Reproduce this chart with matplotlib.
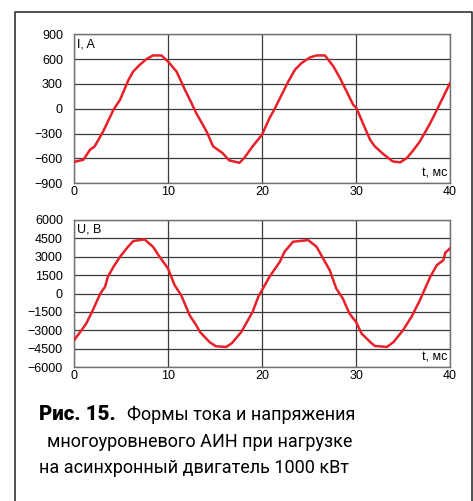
import numpy as np
import matplotlib
matplotlib.use('Agg')
import matplotlib.pyplot as plt
from matplotlib.lines import Line2D

matplotlib.rc('font', family=['Liberation Sans', 'DejaVu Sans'], size=9)

# current, A
t_i = [0, 1.0, 1.7, 2.2, 3.1, 4.2, 4.9, 5.8, 6.3, 7.0, 7.7, 8.4, 9.3, 10.0, 10.9,
       11.4, 11.8, 12.5, 13.0, 14.1, 14.8, 15.8, 16.5, 17.6, 18.1, 19.0, 20.0,
       20.8, 21.3, 22.0, 22.8, 23.5, 24.2, 25.1, 25.8, 26.7, 27.6, 28.3, 29.0,
       29.7, 30.05, 30.8, 31.5, 32.0, 32.9, 33.9, 34.7, 35.4, 36.0, 36.8, 37.9,
       38.7, 40.0]
i_a = [-645, -618, -497, -456, -275, -12, 109, 351, 452, 533, 601, 646, 646, 573,
       452, 331, 230, 69, -52, -275, -456, -537, -625, -655, -598, -456, -315,
       -113, -12, 149, 331, 472, 553, 622, 646, 646, 513, 371, 210, 48, 8, -194,
       -376, -456, -549, -638, -650, -598, -517, -396, -174, 8, 311]

# voltage, V
t_u = [0, 0.8, 1.3, 2.0, 2.8, 3.3, 3.6, 4.2, 4.9, 5.6, 6.3, 7.0, 7.5, 8.4, 9.1,
       10.0, 10.7, 11.4, 12.3, 13.0, 13.4, 14.4, 15.1, 16.2, 16.8, 17.8, 18.2,
       19.0, 19.6, 20.0, 20.8, 21.9, 22.4, 23.3, 24.0, 24.9, 25.8, 26.5, 27.2,
       27.9, 28.6, 29.3, 30.0, 30.6, 31.5, 32.0, 33.3, 34.0, 35.0, 35.9, 36.8,
       37.9, 38.6, 39.3, 39.5, 40.0]
u_v = [-3818, -3000, -2454, -1364, 0, 545, 1364, 2182, 3000, 3682, 4282, 4364,
       4418, 3818, 3000, 2045, 682, -136, -1773, -2591, -3136, -3955, -4309,
       -4364, -4050, -3136, -2591, -1500, -273, 273, 1364, 2591, 3409, 4227,
       4282, 4364, 3818, 2864, 1909, 409, -409, -1636, -2318, -3273, -3955,
       -4282, -4364, -3955, -3000, -1909, -545, 1364, 2318, 2727, 3327, 3682]

i_ticks = [-900, -600, -300, 0, 300, 600, 900]
u_ticks = [-6000, -4500, -3000, -1500, 0, 1500, 3000, 4500, 6000]
t_ticks = [0, 10, 20, 30, 40]

W, H = 473, 501
fig = plt.figure(figsize=(W/100., H/100.), dpi=100)

def px(x0, y0, x1, y1):
    return [x0/W, 1-y1/H, (x1-x0)/W, (y1-y0)/H]

def setup(ax, yt, ylab):
    ax.set_xlim(0, 40)
    ax.set_ylim(yt[0], yt[-1])
    ax.set_xticks(t_ticks)
    ax.set_yticks(yt)
    ax.set_yticklabels(['\u2212%d' % -v if v < 0 else '%d' % v for v in yt])
    ax.tick_params(length=0, pad=8, labelsize=9)
    ax.tick_params(axis='x', pad=2)
    ax.grid(True, color='#3a3a3a', lw=0.9)
    for s in ax.spines.values():
        s.set_color('#707070')
        s.set_linewidth(1.0)
    ax.text(0.008, 0.975, ylab, transform=ax.transAxes, ha='left', va='top',
            fontsize=9)
    ax.text(0.992, 0.025, 't, мс', transform=ax.transAxes, ha='right',
            va='bottom', fontsize=9)

ax1 = fig.add_axes(px(74, 34.5, 450, 183))
ax1.plot(t_i, i_a, color='#e8202a', lw=1.8, zorder=3)
setup(ax1, i_ticks, 'I, A')

ax2 = fig.add_axes(px(74, 220, 450, 367))
ax2.plot(t_u, u_v, color='#e8202a', lw=1.8, zorder=3)
setup(ax2, u_ticks, 'U, В')

# outer frame
xs = np.array([14.5, 14.5, 471.5, 471.5])
ys = np.array([H, 11.5, 11.5, H])
fig.add_artist(Line2D(xs/W, 1-ys/H, color='#333333', lw=1.2))

cf = ['Roboto', 'DejaVu Sans']
fig.text(39/W, 1-415/H, 'Рис. 15.', family=cf, fontsize=14.8,
         fontweight='heavy', va='center', ha='left')
fig.text(127/W, 1-415/H, 'Формы тока и напряжения', family=cf,
         fontsize=13, va='center', ha='left')
fig.text(47/W, 1-442/H, 'многоуровневого АИН при нагрузке', family=cf,
         fontsize=13, va='center', ha='left')
fig.text(39/W, 1-468/H, 'на асинхронный двигатель 1000 кВт', family=cf,
         fontsize=13, va='center', ha='left')

plt.savefig('out.png', dpi=100)
